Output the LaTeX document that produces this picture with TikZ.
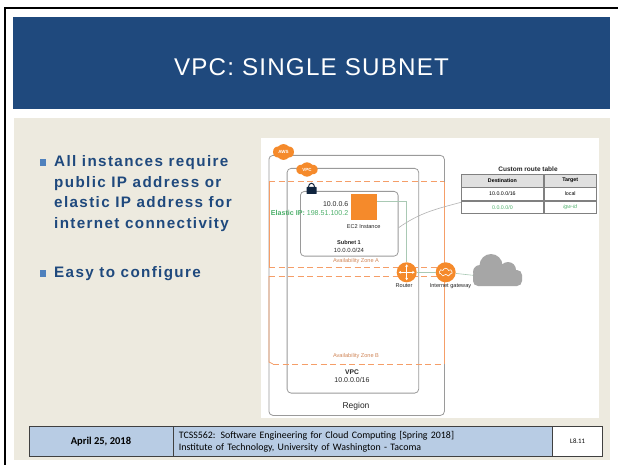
\documentclass[tikz,border=0pt]{standalone}
\usepackage{fontspec}
\setmainfont{Liberation Sans}
\newfontfamily\footfont{Carlito}
\usetikzlibrary{arrows.meta, positioning, shapes.geometric, shapes.symbols, fit, calc}
\definecolor{slideblue}{HTML}{1F497D}
\definecolor{slidetan}{HTML}{EDEADF}
\definecolor{footblue}{HTML}{B8CCE4}
\definecolor{bulletblue}{HTML}{4F81BD}
\definecolor{awsorange}{HTML}{F58A2B}
\definecolor{zoneorange}{HTML}{F59E68}
\definecolor{boxgray}{HTML}{9A9A9A}
\definecolor{cloudgray}{HTML}{A6A6A6}
\definecolor{ipgreen}{HTML}{4CAF6A}
\definecolor{linkgreen}{HTML}{A9C9B4}

\begin{document}
\begin{tikzpicture}[x=1pt, y=-1pt, font=\footnotesize, >={Stealth[length=2.5pt, width=3pt]}]
    \tikzset{bullettext/.style = {anchor=north west, align=left, inner sep=0pt, text=slideblue, font=\fontsize{15.2}{20.8}\selectfont\bfseries\addfontfeature{LetterSpace=9}}}
    \tikzset{bulletmark/.style = {rectangle, fill=bulletblue, minimum size=6.5pt, inner sep=0pt}}
    \tikzset{regionbox/.style = {rectangle, draw=boxgray, line width=0.8pt, rounded corners=4pt, inner sep=0pt, anchor=north west}}
    \tikzset{zoneline/.style = {draw=zoneorange, line width=0.8pt, dash pattern=on 6pt off 3.5pt}}
    \tikzset{zoneside/.style = {draw=zoneorange, line width=0.7pt}}
    \tikzset{tag/.style = {cloud, cloud puffs=6, cloud puff arc=100, fill=awsorange, text=white, inner sep=0pt, minimum width=21pt, minimum height=13pt, font=\fontsize{4.5}{5}\selectfont\bfseries}}
    \tikzset{roundicon/.style = {circle, fill=awsorange, minimum size=20pt, inner sep=0pt}}
    \tikzset{small/.style = {font=\fontsize{5.6}{6}\selectfont, inner sep=0pt, align=center, text=black!85}}
    \tikzset{zonelabel/.style = {small, text=zoneorange!85!black}}
    \tikzset{cell/.style = {rectangle, draw=black!50, line width=0.8pt, inner sep=0pt, font=\fontsize{5.3}{6}\selectfont, minimum height=12.6pt}}
    \tikzset{cellhead/.style = {cell, fill=black!12, font=\fontsize{5.3}{6}\selectfont\bfseries}}
    \tikzset{footcell/.style = {rectangle, draw=black!75, line width=0.7pt, inner sep=0pt, minimum height=30pt, font=\footfont\fontsize{9.9}{12}\selectfont}}
    \tikzset{link/.style = {draw=linkgreen, line width=0.6pt}}

    \useasboundingbox (0,0) rectangle (618,465);
    % Slide background
    \fill [white] (0,0) rectangle (618,465);
    \draw [black, line width=2pt] (4.5,465) -- (4.5,8.5) -- (618,8.5);
    \node [rectangle, fill=slideblue, minimum width=597pt, minimum height=92pt, inner sep=0pt, anchor=north west] (banner) at (13,17) {};
    \node [text=white, font=\fontsize{24.2}{26}\selectfont\addfontfeature{LetterSpace=5}] (title) at (311.5,67) {VPC: SINGLE SUBNET};
    \fill [slidetan] (14,118) rectangle (610,460);

    % Bullets
    \node [bulletmark] (markone) at (43,162.7) {};
    \node [bullettext] (bulletone) at (54,155) {All instances require\\public IP address or\\elastic IP address for\\internet connectivity};
    \node [bulletmark] (marktwo) at (43,273.5) {};
    \node [bullettext] (bullettwo) at (54,266) {Easy to configure};

    % Diagram panel
    \fill [white] (261,138) rectangle (599,418);
    \node [regionbox, minimum width=175.5pt, minimum height=260pt] (region) at (268.5,155) {};
    \node [regionbox, minimum width=131.6pt, minimum height=224.7pt] (vpc) at (286.7,168) {};
    \node [regionbox, minimum width=97.7pt, minimum height=64.7pt] (subnet) at (300,191) {};

    % Availability zones
    \draw [zoneline] (269,181.7) -- (444,181.7);
    \draw [zoneside] (269,181.7) -- (269,267.7);
    \draw [zoneside] (444,181.7) -- (444,364);
    \draw [zoneline] (269,267.7) -- (444,267.7);
    \draw [zoneline] (269,276) -- (444,276);
    \draw [zoneside] (269,276) -- (269,362) -- (273,364);
    \draw [zoneline] (273,364.3) -- (444,364.3);
    \node [zonelabel] (zonea) at (356,261.5) {Availability Zone A};
    \node [zonelabel] (zoneb) at (356,356.5) {Availability Zone B};

    % Tags
    \node [tag] (awstag) at (283.5,152) {AWS};
    \node [tag] (vpctag) at (307,169.5) {VPC};
    % Lock
    \node [rectangle, fill=slideblue!50!black, minimum width=10pt, minimum height=7pt, inner sep=0pt, rounded corners=0.5pt] (lock) at (311.5,190.5) {};
    \draw [slideblue!50!black, line width=1pt] ($(lock.north)+(-3,0)$) arc (180:360:3 and 3.5);

    % Instance and subnet labels
    \node [rectangle, fill=awsorange, minimum size=25.5pt, inner sep=0pt, anchor=north west] (instance) at (351,194) {};
    \node [small, font=\fontsize{7}{8}\selectfont, anchor=east] (ipaddr) at (348.5,204) {10.0.0.6};
    \node [anchor=east, inner sep=0pt, text=ipgreen, font=\fontsize{7.1}{8}\selectfont] (elastic) at (348.5,213) {\textbf{Elastic IP:} 198.51.100.2};
    \node [small] (instancelabel) at (363.7,226.3) {EC2 Instance};
    \node [small, font=\fontsize{5.6}{6}\selectfont\bfseries] (subnetname) at (349,242.7) {Subnet 1};
    \node [small, font=\fontsize{6}{7}\selectfont] (subnetcidr) at (349,250) {10.0.0.0/24};

    % Router, gateway, cloud
    \node [roundicon] (router) at (406.7,272.3) {};
    \draw [white, line width=0.8pt, <->] ($(router)+(-8,0)$) -- ($(router)+(8,0)$);
    \draw [white, line width=0.8pt, <->] ($(router)+(0,-8)$) -- ($(router)+(0,8)$);
    \node [roundicon] (gateway) at (445.7,272.3) {};
    \node [cloud, cloud puffs=7, draw=white, line width=0.6pt, minimum width=13pt, minimum height=8pt, inner sep=0pt] (gatewaycloud) at (gateway) {};
    \node [small] (routerlabel) at (404,286) {Router};
    \node [small] (gatewaylabel) at (450.5,286) {Internet gateway};
    \node [rectangle, rounded corners=5pt, fill=cloudgray, minimum width=49pt, minimum height=16pt, inner sep=0pt] (internet) at (497.5,278) {};
    \fill [cloudgray] (491,265.5) circle (11.5) (508,270) circle (8) (480,272) circle (7);

    % Connections
    \draw [link] ($(instance.north east)+(0,7)$) -| (router.north);
    \draw [link] (router) -- (gateway);
    \draw [link] (gateway) -- (internet);

    % Region and VPC labels
    \node [small, font=\fontsize{6.7}{7}\selectfont\bfseries] (vpcname) at (352,372) {VPC};
    \node [small, font=\fontsize{7}{8}\selectfont] (vpccidr) at (352,380) {10.0.0.0/16};
    \node [small, font=\fontsize{8.5}{9}\selectfont] (regionname) at (356,406) {Region};

    % Route table
    \node [small, font=\fontsize{6.5}{7}\selectfont\bfseries] (tabletitle) at (528,169.5) {Custom route table};
    \node [cellhead, minimum width=82pt, anchor=north west] (dest) at (461,174) {Destination};
    \node [cellhead, minimum width=52pt, right=0pt of dest] (target) {Target};
    \node [cell, minimum width=82pt, below=0pt of dest] (destlocal) {10.0.0.0/16};
    \node [cell, minimum width=52pt, below=0pt of target] (targetlocal) {local};
    \node [cell, minimum width=82pt, below=0pt of destlocal, text=ipgreen] (destigw) {0.0.0.0/0};
    \node [cell, minimum width=52pt, below=0pt of targetlocal, text=ipgreen] (targetigw) {\itshape igw-id};
    \draw [black!30, line width=0.6pt] ($(subnet.east)+(0,4)$) to [out=35, in=195] ($(destigw.north west)+(0,1.5)$);

    % Footer
    \node [footcell, fill=footblue, minimum width=144.2pt, anchor=north west, font=\footfont\fontsize{10.5}{12}\selectfont\bfseries] (footdate) at (28.5,426) {April 25, 2018};
    \node [footcell, fill=footblue, minimum width=378.3pt, right=0pt of footdate, align=left, text width=368pt] (footcourse) {TCSS562: Software Engineering for Cloud Computing [Spring 2018]\\Institute of Technology, University of Washington - Tacoma};
    \node [footcell, fill=white, minimum width=49.7pt, right=0pt of footcourse, font=\footfont\fontsize{6.8}{8}\selectfont] (footpage) {L8.11};
\end{tikzpicture}
\end{document}
